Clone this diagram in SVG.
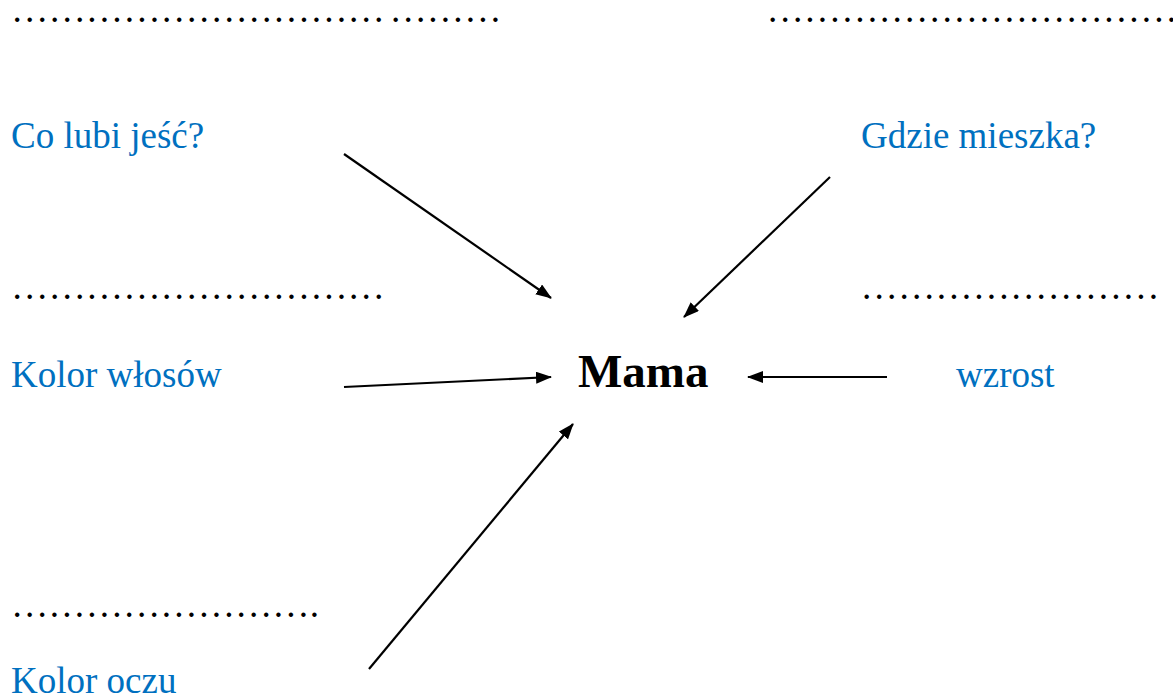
<svg xmlns="http://www.w3.org/2000/svg" width="1173" height="697" viewBox="0 0 1173 697">
<style>
text{font-family:"Liberation Serif","Times New Roman",serif;font-size:37px}
.lbl{fill:#0070C0}
.dots{fill:#000}
.title{font-weight:bold;font-size:47px;fill:#000}
.conn line{stroke:#000;stroke-width:2.2;fill:none}
</style>
<defs>
<marker id="ah" viewBox="0 0 16 12" refX="15" refY="6" markerWidth="16" markerHeight="12" markerUnits="userSpaceOnUse" orient="auto">
<path d="M0,0 L16,6 L0,12 z" fill="#000"/>
</marker>
</defs>
<rect width="1173" height="697" fill="#fff"/>
<g id="dots-top-left"><text class="dots" y="22"><tspan x="11" textLength="374" lengthAdjust="spacingAndGlyphs">&#8230;&#8230;&#8230;&#8230;&#8230;&#8230;&#8230;&#8230;&#8230;&#8230;</tspan><tspan x="389.5" textLength="112" lengthAdjust="spacingAndGlyphs">&#8230;&#8230;&#8230;</tspan></text></g>
<g id="dots-top-right"><text class="dots" x="766.5" y="22" textLength="411" lengthAdjust="spacingAndGlyphs">&#8230;&#8230;&#8230;&#8230;&#8230;&#8230;&#8230;&#8230;&#8230;&#8230;&#8230;</text></g>
<g id="node-jesc"><text class="lbl" x="11" y="148">Co lubi jeść?</text></g>
<g id="node-mieszka"><text class="lbl" x="861" y="148">Gdzie mieszka?</text></g>
<g id="dots-mid-left"><text class="dots" x="11" y="299" textLength="374" lengthAdjust="spacingAndGlyphs">&#8230;&#8230;&#8230;&#8230;&#8230;&#8230;&#8230;&#8230;&#8230;&#8230;</text></g>
<g id="dots-mid-right"><text class="dots" x="860.5" y="299" textLength="299" lengthAdjust="spacingAndGlyphs">&#8230;&#8230;&#8230;&#8230;&#8230;&#8230;&#8230;&#8230;</text></g>
<g id="node-wlosy"><text class="lbl" x="11" y="387">Kolor włosów</text></g>
<g id="node-mama"><text class="title" x="578" y="387">Mama</text></g>
<g id="node-wzrost"><text class="lbl" x="956" y="387">wzrost</text></g>
<g id="dots-bottom"><text class="dots" x="11" y="617" textLength="308" lengthAdjust="spacingAndGlyphs">&#8230;&#8230;&#8230;&#8230;&#8230;&#8230;&#8230;&#8230;.</text></g>
<g id="node-oczy"><text class="lbl" x="11" y="693">Kolor oczu</text></g>
<g class="conn" id="connectors">
<line x1="344" y1="154" x2="551" y2="298" marker-end="url(#ah)"/>
<line x1="830" y1="177" x2="684" y2="317" marker-end="url(#ah)"/>
<line x1="344" y1="387" x2="551" y2="377" marker-end="url(#ah)"/>
<line x1="887" y1="377" x2="748" y2="377" marker-end="url(#ah)"/>
<line x1="369" y1="669" x2="573" y2="424" marker-end="url(#ah)"/>
</g>
</svg>
